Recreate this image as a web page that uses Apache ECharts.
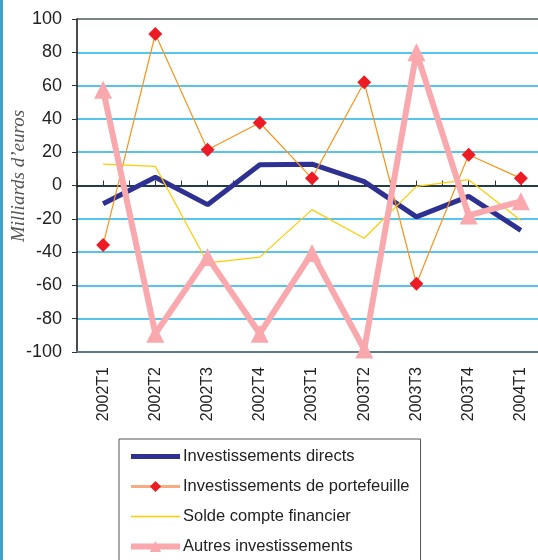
<!DOCTYPE html>
<html>
<head>
<meta charset="utf-8">
<script src="https://cdn.jsdelivr.net/npm/echarts@6/dist/echarts.min.js"></script>
<style>html,body{margin:0;padding:0;background:#fff;}#c{width:538px;height:560px;}</style>
</head>
<body>
<div id="c"></div>
<script>
const categories = ['2002T1','2002T2','2002T3','2002T4','2003T1','2003T2','2003T3','2003T4','2004T1'];
const investDirects = [-11, 5, -11.5, 12.5, 12.8, 2.3, -18.8, -6.5, -27];
const investPortefeuille = [-35.7, 91, 21.5, 37.7, 4.3, 62, -59, 18.5, 4.3];
const soldeCompteFinancier = [12.8, 11.5, -46.5, -43, -14.5, -31.7, -0.5, 3.5, -21];
const autresInvest = [57.5, -89, -43, -89, -40.5, -98.5, 80, -18, -9.5];
const yTicks = [-100, -80, -60, -40, -20, 0, 20, 40, 60, 80, 100];
const halfTicks = Array.from({length: categories.length * 2}, () => '');

const chart = echarts.init(document.getElementById('c'), null, {renderer: 'canvas'});
const FONT = 'Liberation Sans, Arial, sans-serif';
const gridLineColors = yTicks.map((v, i) => i === yTicks.length - 1 ? '#4d5a60' : (i === 0 ? 'rgba(0,0,0,0)' : '#1fb1e6'));

chart.setOption({
  animation: false,
  backgroundColor: '#ffffff',
  grid: {left: 77, top: 19, width: 470, height: 333, outerBoundsMode: 'none', containLabel: false},
  graphic: [
    {type: 'rect', left: 0, top: 0, shape: {width: 3, height: 560}, style: {fill: '#3ea3c9'}, z: 100},
    {type: 'text', x: 19, y: 176, rotation: Math.PI / 2,
     style: {text: 'Milliards d\u2019euros', font: 'italic 19px "Liberation Serif", "Times New Roman", serif',
             fill: '#555555', align: 'center', verticalAlign: 'middle'}}
  ],
  legend: {
    orient: 'vertical', left: 119, top: 439, height: 200,
    padding: [9, 11, 9, 9],
    borderColor: '#555555', borderWidth: 1,
    itemWidth: 49, itemHeight: 14, itemGap: 13,
    textStyle: {fontFamily: FONT, fontSize: 16.5, color: '#222222', padding: [0, 0, 0, -2]},
    data: [
      {name: 'Investissements directs', itemStyle: {opacity: 0}, lineStyle: {width: 5, color: '#2e3192'}},
      {name: 'Investissements de portefeuille', lineStyle: {width: 3, color: '#f5ac82'}},
      {name: 'Solde compte financier', itemStyle: {opacity: 0}, lineStyle: {width: 1.5, color: '#ffcc00'}},
      {name: 'Autres investissements', lineStyle: {width: 6, color: '#f9a9ad'}}
    ]
  },
  xAxis: [
    {
      type: 'category', data: categories, boundaryGap: true, position: 'bottom',
      axisLine: {onZero: false, lineStyle: {color: '#5b7d89', width: 2}},
      axisTick: {show: false},
      axisLabel: {rotate: 90, margin: 15, fontFamily: FONT, fontSize: 16, color: '#222222', interval: 0},
      splitLine: {show: false}
    },
    {
      type: 'category', data: halfTicks, boundaryGap: true, position: 'bottom',
      axisLine: {onZero: true, lineStyle: {color: '#111111', width: 1.5}},
      axisTick: {show: true, inside: true, length: 5, interval: 0, lineStyle: {color: '#333333', width: 1}},
      axisLabel: {show: false},
      splitLine: {show: false}
    }
  ],
  yAxis: {
    type: 'value', min: -100, max: 100, interval: 20,
    axisLine: {show: true, lineStyle: {color: '#111111', width: 1.5}},
    axisTick: {show: true, inside: false, length: 5, lineStyle: {color: '#333333'}},
    axisLabel: {margin: 15, fontFamily: FONT, fontSize: 18, color: '#222222'},
    splitLine: {show: true, lineStyle: {color: gridLineColors, width: 1.5}}
  },
  series: [
    {name: 'Investissements directs', type: 'line', data: investDirects, xAxisIndex: 0,
     symbol: 'none', lineStyle: {color: '#2e3192', width: 5}, itemStyle: {color: '#2e3192'}, z: 3},
    {name: 'Investissements de portefeuille', type: 'line', data: investPortefeuille, xAxisIndex: 0,
     symbol: 'diamond', symbolSize: 14, showAllSymbol: true,
     lineStyle: {color: '#f7941d', width: 1.2}, itemStyle: {color: '#ed1c24', borderWidth: 0}, z: 4},
    {name: 'Solde compte financier', type: 'line', data: soldeCompteFinancier, xAxisIndex: 0,
     symbol: 'none', lineStyle: {color: '#ffcc00', width: 1.2}, itemStyle: {color: '#ffcc00'}, z: 5},
    {name: 'Autres investissements', type: 'line', data: autresInvest, xAxisIndex: 0,
     symbol: 'triangle', symbolSize: 18, showAllSymbol: true,
     lineStyle: {color: '#f9a9ad', width: 6}, itemStyle: {color: '#f9a9ad', borderWidth: 0}, z: 6}
  ]
});
</script>
</body>
</html>
